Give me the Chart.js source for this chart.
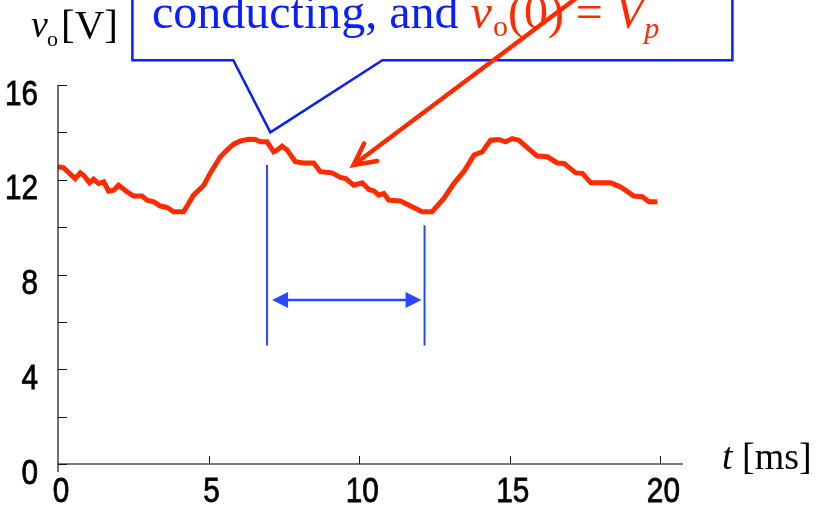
<!DOCTYPE html>
<html>
<head>
<meta charset="utf-8">
<title>vo waveform</title>
<script src="https://cdn.jsdelivr.net/npm/chart.js@4"></script>
<style>
  html, body { margin: 0; padding: 0; background: #fff; }
  #chart { display: block; }
</style>
</head>
<body>
<canvas id="chart" width="817" height="511"></canvas>
<script>
// output voltage trace, t in ms, vo in V
const timeMs = [0, 0.19, 0.57, 0.74, 0.85, 1.05, 1.18, 1.35, 1.52, 1.68, 1.85, 2.01, 2.29, 2.51, 2.79, 2.96,
    3.18, 3.40, 3.62, 3.84, 4.17, 4.50, 4.84, 5.06, 5.39, 5.61, 5.83, 6.06, 6.33, 6.55, 6.72, 6.94,
    7.16, 7.27, 7.44, 7.61, 7.88, 8.16, 8.49, 8.71, 9.10, 9.38, 9.55, 9.82, 10.10, 10.32, 10.49, 10.65,
    10.82, 10.98, 11.37, 11.76, 12.09, 12.42, 12.81, 13.14, 13.47, 13.81, 14.09, 14.36, 14.64, 14.86,
    15.08, 15.30, 15.58, 15.91, 16.25, 16.58, 16.80, 17.19, 17.41, 17.69, 18.35, 18.68, 19.12, 19.40,
    19.62, 19.90];
const voltage = [12.55, 12.50, 12.05, 12.29, 12.19, 11.87, 12.03, 11.84, 11.91, 11.52, 11.56, 11.77, 11.49, 11.31, 11.31, 11.14,
    11.07, 10.89, 10.83, 10.65, 10.65, 11.35, 11.77, 12.29, 12.97, 13.25, 13.50, 13.64, 13.71, 13.70, 13.60, 13.60,
    13.18, 13.25, 13.42, 13.25, 12.76, 12.71, 12.71, 12.34, 12.29, 12.10, 12.05, 11.77, 11.87, 11.59, 11.53, 11.35,
    11.42, 11.14, 11.10, 10.86, 10.65, 10.65, 11.21, 11.84, 12.34, 13.04, 13.18, 13.67, 13.70, 13.60,
    13.74, 13.67, 13.36, 13.00, 12.97, 12.71, 12.69, 12.29, 12.27, 11.87, 11.87, 11.70, 11.31, 11.28,
    11.07, 11.07];

const xTickStep = 5;
const yTickStep = 2;
const yLabelEvery = 4;

// conduction interval marked below the trace (t start/end, in ms)
const intervalStart = 6.94;
const intervalEnd = 12.17;

const RED = "#ff2a00";
const BLUE = "#0a1eff";
const MARK_BLUE = "#2a48ff";
const tickFont = '35px "Liberation Sans", Arial, sans-serif';
const serif = '"Liberation Serif", "Times New Roman", serif';

function drawArrowHead(ctx, x, y, angle, len, half) {
    ctx.beginPath();
    ctx.moveTo(x, y);
    ctx.lineTo(x - len * Math.cos(angle) - half * Math.sin(angle), y - len * Math.sin(angle) + half * Math.cos(angle));
    ctx.lineTo(x - len * Math.cos(angle) + half * Math.sin(angle), y - len * Math.sin(angle) - half * Math.cos(angle));
    ctx.closePath();
    ctx.fill();
}

// narrow tick label: text squeezed horizontally around its anchor
function narrowText(ctx, text, x, y, align) {
    const sx = 0.85;
    ctx.save();
    ctx.translate(x, y);
    ctx.scale(sx, 1);
    ctx.textAlign = align;
    ctx.lineWidth = 0.8;
    ctx.strokeStyle = ctx.fillStyle;
    ctx.fillText(text, 0, 0);
    ctx.strokeText(text, 0, 0);
    ctx.restore();
}

const decorations = {
    id: "decorations",
    afterDraw(chart) {
        const ctx = chart.ctx;
        const xs = chart.scales.x;
        const ys = chart.scales.y;
        const area = chart.chartArea;
        const X = v => xs.getPixelForValue(v);
        const Y = v => ys.getPixelForValue(v);
        ctx.save();

        // axes
        ctx.strokeStyle = "#7a7a7a";
        ctx.lineWidth = 2;
        ctx.beginPath();
        ctx.moveTo(area.left, area.bottom);
        ctx.lineTo(area.right, area.bottom);
        ctx.stroke();
        ctx.strokeStyle = "#111";
        ctx.lineWidth = 1.2;
        ctx.beginPath();
        ctx.moveTo(area.left, area.top);
        ctx.lineTo(area.left, area.bottom + 8);
        ctx.stroke();

        // inward tick marks and labels
        ctx.fillStyle = "#000";
        ctx.font = tickFont;
        ctx.textBaseline = "alphabetic";
        ys.ticks.forEach(t => {
            const y = Math.round(Y(t.value)) + 0.5;
            ctx.lineWidth = 1;
            ctx.beginPath();
            ctx.moveTo(area.left, y);
            ctx.lineTo(area.left + 9, y);
            ctx.stroke();
            if (t.value % yLabelEvery === 0) {
                narrowText(ctx, String(t.value), area.left - 20, Y(t.value) + 19.5, "right");
            }
        });
        xs.ticks.forEach(t => {
            const x = Math.round(X(t.value)) + 0.5;
            if (t.value !== 0) {
                ctx.lineWidth = 1;
                ctx.beginPath();
                ctx.moveTo(x, area.bottom);
                ctx.lineTo(x, area.bottom - 8);
                ctx.stroke();
            }
            narrowText(ctx, String(t.value), X(t.value) + 3, area.bottom + 38, "center");
        });

        // conduction interval markers
        ctx.strokeStyle = MARK_BLUE;
        ctx.fillStyle = MARK_BLUE;
        ctx.lineWidth = 2;
        ctx.beginPath();
        ctx.moveTo(X(intervalStart), Y(12.62));
        ctx.lineTo(X(intervalStart), Y(5.0));
        ctx.moveTo(X(intervalEnd), Y(10.08));
        ctx.lineTo(X(intervalEnd), Y(5.0));
        ctx.stroke();
        const ay = Y(6.92);
        const ax1 = X(intervalStart) + 5;
        const ax2 = X(intervalEnd) - 3;
        ctx.lineWidth = 2.5;
        ctx.beginPath();
        ctx.moveTo(ax1 + 10, ay);
        ctx.lineTo(ax2 - 10, ay);
        ctx.stroke();
        drawArrowHead(ctx, ax1, ay, Math.PI, 16, 8);
        drawArrowHead(ctx, ax2, ay, 0, 16, 8);

        // callout box with pointer
        const bl = X(2.47), br = X(22.39), bb = Y(17.05), bt = -10;
        const tipX = X(7.05), tipY = Y(14.0);
        ctx.strokeStyle = BLUE;
        ctx.fillStyle = "#fff";
        ctx.lineWidth = 2.5;
        ctx.beginPath();
        ctx.moveTo(bl, bt);
        ctx.lineTo(bl, bb);
        ctx.lineTo(X(5.82), bb);
        ctx.lineTo(tipX, tipY);
        ctx.lineTo(X(10.77), bb);
        ctx.lineTo(br, bb);
        ctx.lineTo(br, bt);
        ctx.closePath();
        ctx.fill();
        ctx.stroke();

        // callout text
        ctx.textBaseline = "alphabetic";
        ctx.textAlign = "left";
        let x = 152;
        const base = 28;
        const seg = (text, font, color, dy) => {
            ctx.font = font;
            ctx.fillStyle = color;
            ctx.fillText(text, x, base + dy);
            x += ctx.measureText(text).width;
        };
        seg("conducting, and ", "48px " + serif, BLUE, 0);
        seg("v", "italic 48px " + serif, RED, 0);
        x += 1;
        seg("o", "30px " + serif, RED, 8);
        seg("(0) = ", "48px " + serif, RED, 0);
        seg("V", "italic 48px " + serif, RED, 0);
        seg("p", "italic 30px " + serif, RED, 10);

        // pointer arrow to the decaying part of the trace
        const sx = X(17.19), sy = Y(19.65);
        const ex = X(9.81), ey = Y(12.62);
        ctx.strokeStyle = RED;
        ctx.lineWidth = 4.5;
        ctx.lineCap = "round";
        ctx.beginPath();
        ctx.moveTo(sx, sy);
        ctx.lineTo(ex, ey);
        const ang = Math.atan2(sy - ey, sx - ex);
        const leg = 24, spread = 0.47;
        ctx.moveTo(ex + leg * Math.cos(ang - spread), ey + leg * Math.sin(ang - spread));
        ctx.lineTo(ex, ey);
        ctx.lineTo(ex + leg * Math.cos(ang + spread), ey + leg * Math.sin(ang + spread));
        ctx.stroke();

        // axis titles
        ctx.fillStyle = "#000";
        ctx.font = "italic 38px " + serif;
        ctx.fillText("v", 31, 37);
        ctx.font = "22px " + serif;
        ctx.fillText("o", 47, 46);
        ctx.font = "41px " + serif;
        ctx.fillText("[V]", 61, 38);
        ctx.font = "italic 38px " + serif;
        ctx.fillText("t", 722, 469);
        ctx.font = "38px " + serif;
        ctx.fillText("[ms]", 742, 469);

        ctx.restore();
    }
};

new Chart(document.getElementById("chart").getContext("2d"), {
    type: "line",
    data: {
        datasets: [{
            data: timeMs.map((t, i) => ({ x: t, y: voltage[i] })),
            borderColor: RED,
            borderWidth: 5,
            pointRadius: 0,
            tension: 0,
            fill: false
        }]
    },
    options: {
        responsive: false,
        animation: false,
        devicePixelRatio: 1,
        layout: { padding: { top: 85, right: 134, bottom: 0, left: 0 } },
        plugins: { legend: { display: false }, tooltip: { enabled: false } },
        scales: {
            x: {
                type: "linear",
                min: 0,
                max: 20.75,
                border: { display: false },
                grid: { display: false, drawTicks: false },
                ticks: { stepSize: xTickStep, includeBounds: false, display: false },
                afterFit: s => { s.height = 47; }
            },
            y: {
                min: 0,
                max: 16,
                border: { display: false },
                grid: { display: false, drawTicks: false },
                ticks: { stepSize: yTickStep, display: false },
                afterFit: s => { s.width = 58; }
            }
        }
    },
    plugins: [decorations]
});
</script>
</body>
</html>
